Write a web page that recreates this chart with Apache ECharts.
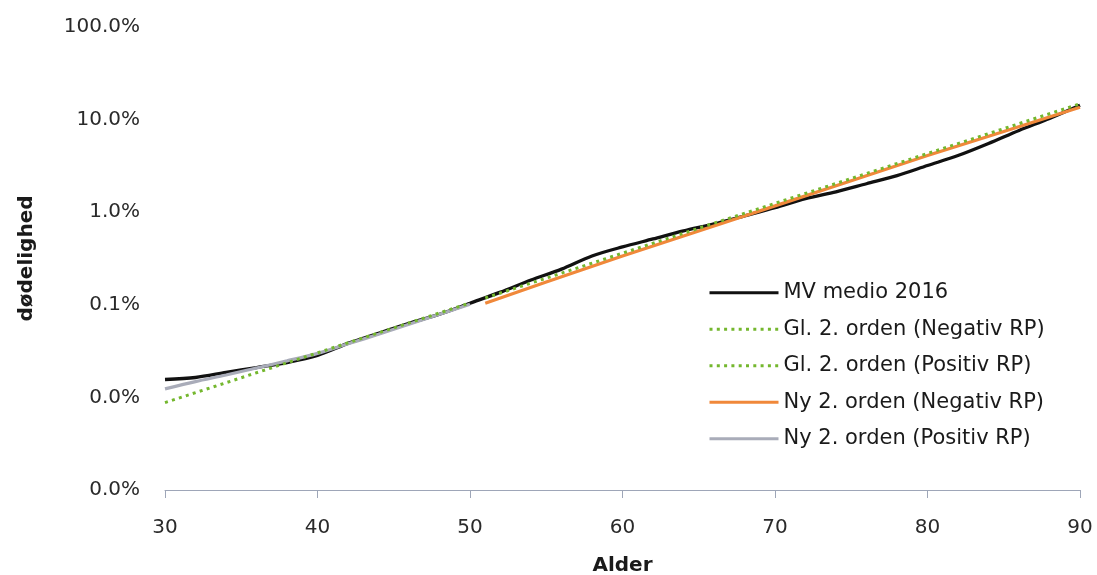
<!DOCTYPE html>
<html>
<head>
<meta charset="utf-8">
<script src="https://cdn.jsdelivr.net/npm/echarts@6/dist/echarts.min.js"></script>
<style>
html,body{margin:0;padding:0;background:#fff;}
#chart{width:1097px;height:575px;}
</style>
</head>
<body>
<div id="chart"></div>
<script>
// Values in percent (dødelighed)
const seriesNames = ["MV medio 2016","Gl. 2. orden (Negativ RP)","Gl. 2. orden (Positiv RP)","Ny 2. orden (Negativ RP)","Ny 2. orden (Positiv RP)"];
const yTickValues = [0.001, 0.01, 0.1, 1, 10, 100];
const xTicks = [30, 40, 50, 60, 70, 80, 90];

const mvAges = [30,32,34,36,38,40,42,44,46,48,50,52,54,56,58,60,62,64,66,68,70,72,74,76,78,80,82,84,86,88,90];
const mvValues = [0.0156,0.0164,0.0186,0.0210,0.0238,0.0284,0.0383,0.0492,0.0631,0.079,0.104,0.137,0.185,0.243,0.337,0.422,0.514,0.628,0.748,0.914,1.12,1.40,1.66,2.03,2.48,3.19,4.09,5.52,7.64,10.3,14.3];

const glNegAges = [51,55,60,65,70,75,80,85,90];
const glNegValues = [0.1185,0.194,0.361,0.671,1.246,2.31,4.30,7.99,14.8];

const glPosAges = [30,35,40,45,50];
const glPosValues = [0.00879,0.0163,0.0303,0.0563,0.1046];

const nyNegAges = [51,55,60,65,70,75,80,85,90];
const nyNegValues = [0.104,0.176,0.336,0.628,1.17,2.19,4.09,7.45,13.6];

const nyPosAges = [30,32,34,36,38,40,42,44,46,48,50];
const nyPosValues = [0.01236,0.01482,0.01746,0.0208,0.0248,0.0299,0.0379,0.048,0.0617,0.079,0.1014];

function pairs(xs, ys){ return xs.map((x,i)=>[x, ys[i]]); }

const FONT = 'DejaVu Sans';
const chart = echarts.init(document.getElementById('chart'), null, {renderer:'canvas'});
chart.setOption({
  animation: false,
  backgroundColor: '#ffffff',
  grid: {left:165, right:17, top:27, bottom:85, containLabel:false, outerBoundsMode:'none'},
  legend: {
    orient: 'vertical',
    left: 708,
    top: 282,
    padding: 0,
    itemWidth: 69,
    itemHeight: 14,
    itemGap: 15,
    itemStyle: {opacity: 0},
    lineStyle: {width: 3},
    data: seriesNames,
    textStyle: {fontFamily: FONT, fontSize: 21, color: '#1a1a1a', lineHeight: 21.5}
  },
  xAxis: {
    type: 'value',
    min: 30, max: 90, interval: 10,
    name: 'Alder',
    nameLocation: 'middle',
    nameGap: 66,
    nameTextStyle: {fontFamily: FONT, fontSize: 20, fontWeight: 'bold', color: '#1a1a1a'},
    axisLine: {show:true, lineStyle:{color:'#9ea6b8', width:1}},
    axisTick: {show:true, length:8, lineStyle:{color:'#9ea6b8'}},
    axisLabel: {fontFamily: FONT, fontSize: 20, color: '#2a2a2a', margin: 28},
    splitLine: {show:false}
  },
  yAxis: {
    type: 'log',
    logBase: 10,
    min: yTickValues[0],
    max: yTickValues[yTickValues.length-1],
    name: 'dødelighed',
    nameLocation: 'middle',
    nameGap: 128,
    nameTextStyle: {fontFamily: FONT, fontSize: 20, fontWeight: 'bold', color: '#1a1a1a'},
    axisLine: {show:false},
    axisTick: {show:false},
    splitLine: {show:false},
    axisLabel: {
      fontFamily: FONT, fontSize: 20, color: '#2a2a2a', margin: 25,
      formatter: function(v){ return v.toFixed(1) + '%'; }
    }
  },
  series: [
    {name: seriesNames[0], type:'line', data: pairs(mvAges, mvValues), symbol:'none', smooth:0.3, z:2,
     lineStyle:{color:'#111111', width:3.3}, itemStyle:{color:'#111111'}},
    {name: seriesNames[1], type:'line', data: pairs(glNegAges, glNegValues), symbol:'none', z:4,
     lineStyle:{color:'#74b72e', width:3, type:[3,4.3], cap:'butt'}, itemStyle:{color:'#74b72e'}},
    {name: seriesNames[2], type:'line', data: pairs(glPosAges, glPosValues), symbol:'none', z:4,
     lineStyle:{color:'#74b72e', width:3, type:[3,4.3], cap:'butt'}, itemStyle:{color:'#74b72e'}},
    {name: seriesNames[3], type:'line', data: pairs(nyNegAges, nyNegValues), symbol:'none', z:3,
     lineStyle:{color:'#f0883a', width:3.2}, itemStyle:{color:'#f0883a'}},
    {name: seriesNames[4], type:'line', data: pairs(nyPosAges, nyPosValues), symbol:'none', smooth:0.3, z:3,
     lineStyle:{color:'#a9acb9', width:3.2}, itemStyle:{color:'#a9acb9'}}
  ]
});
</script>
</body>
</html>
